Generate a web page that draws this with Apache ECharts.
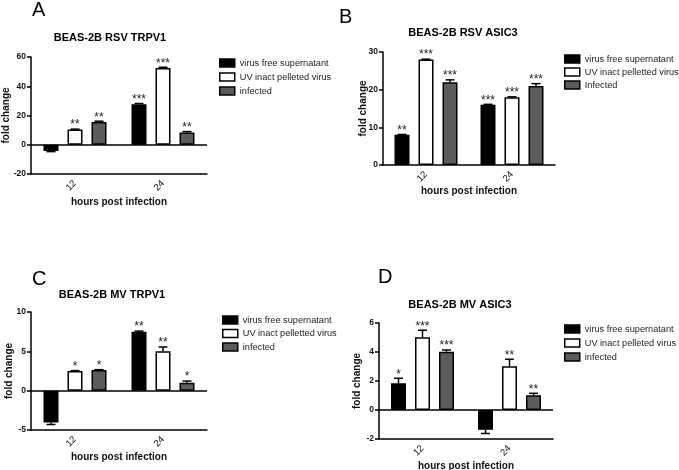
<!DOCTYPE html>
<html><head><meta charset="utf-8">
<script src="https://cdn.jsdelivr.net/npm/echarts@6/dist/echarts.min.js"></script>
<style>html,body{margin:0;padding:0;background:#fff}#c{width:679px;height:470px}</style>
</head><body><div id="c"></div>
<script>
// ---------- DATA ----------
const categories = ['12', '24'];
const xAxisName = 'hours post infection';
const yAxisName = 'fold change';

const panelLetters = ['A', 'B', 'C', 'D'];
const panelTitles = ['BEAS-2B RSV TRPV1', 'BEAS-2B RSV ASIC3', 'BEAS-2B MV TRPV1', 'BEAS-2B MV ASIC3'];

const namesA = ['virus free supernatant', 'UV inact pelleted virus', 'infected'];
const namesB = ['virus free supernatant', 'UV inact pelletted virus', 'Infected'];
const namesC = ['virus free supernatant', 'UV inact pelletted virus', 'infected'];
const namesD = ['virus free supernatant', 'UV inact pelleted virus', 'infected'];

// y-axis ranges [min, max, interval]
const yRangeA = [-20, 60, 20];
const yRangeB = [0, 30, 10];
const yRangeC = [-5, 10, 5];
const yRangeD = [-2, 6, 2];

// Panel A: BEAS-2B RSV TRPV1
const aVirusFree = [-4.3, 27.7];   const aVirusFreeErr = [0.4, 0.5];  const aVirusFreeSig = ['', '***'];
const aUV = [10.4, 52.5];          const aUVErr = [0.3, 0.5];         const aUVSig = ['**', '***'];
const aInfected = [15.6, 8.3];     const aInfectedErr = [0.5, 0.7];   const aInfectedSig = ['**', '**'];

// Panel B: BEAS-2B RSV ASIC3
const bVirusFree = [8.0, 16.0];    const bVirusFreeErr = [0.1, 0.1];  const bVirusFreeSig = ['**', '***'];
const bUV = [28.0, 18.0];          const bUVErr = [0.1, 0.1];         const bUVSig = ['***', '***'];
const bInfected = [22.0, 21.0];    const bInfectedErr = [0.6, 0.6];   const bInfectedSig = ['***', '***'];

// Panel C: BEAS-2B MV TRPV1
const cVirusFree = [-4.05, 7.5];   const cVirusFreeErr = [0.25, 0.08]; const cVirusFreeSig = ['', '**'];
const cUV = [2.5, 5.0];            const cUVErr = [0.05, 0.55];        const cUVSig = ['*', '**'];
const cInfected = [2.62, 1.02];    const cInfectedErr = [0.05, 0.2];   const cInfectedSig = ['*', '*'];

// Panel D: BEAS-2B MV ASIC3
const dVirusFree = [1.85, -1.37];  const dVirusFreeErr = [0.34, 0.25]; const dVirusFreeSig = ['*', ''];
const dUV = [5.02, 3.02];          const dUVErr = [0.48, 0.48];        const dUVSig = ['***', '**'];
const dInfected = [4.02, 1.02];    const dInfectedErr = [0.12, 0.13];  const dInfectedSig = ['***', '**'];

// ---------- STYLE / LAYOUT ----------
const FONT = '"Liberation Sans", Arial, sans-serif';
const BAR_W = 15, BAR_GAP = 0.6, PITCH = BAR_W * (1 + BAR_GAP);
const barColors = ['#000000', '#ffffff', '#5c5c5c'];

const panels = [
  { names: namesA, yr: yRangeA, zeroLine: true,
    vals: [aVirusFree, aUV, aInfected], errs: [aVirusFreeErr, aUVErr, aInfectedErr], sigs: [aVirusFreeSig, aUVSig, aInfectedSig],
    grid: { left: 31, top: 57, width: 176, height: 117 }, yGap: 20, xGap: 23,
    legend: { left: 219, top: 58, itemGap: 4 },
    letter: [32, 10], title: [110, 38] },
  { names: namesB, yr: yRangeB, zeroLine: false,
    vals: [bVirusFree, bUV, bInfected], errs: [bVirusFreeErr, bUVErr, bInfectedErr], sigs: [bVirusFreeSig, bUVSig, bInfectedSig],
    grid: { left: 383, top: 52, width: 172, height: 113 }, yGap: 15, xGap: 21,
    legend: { left: 564, top: 54, itemGap: 3 },
    letter: [339, 17], title: [463, 33] },
  { names: namesC, yr: yRangeC, zeroLine: true,
    vals: [cVirusFree, cUV, cInfected], errs: [cVirusFreeErr, cUVErr, cInfectedErr], sigs: [cVirusFreeSig, cUVSig, cInfectedSig],
    grid: { left: 31, top: 312, width: 176, height: 118 }, yGap: 17, xGap: 22,
    legend: { left: 222, top: 315, itemGap: 3.5 },
    letter: [32, 279], title: [112, 295] },
  { names: namesD, yr: yRangeD, zeroLine: true,
    vals: [dVirusFree, dUV, dInfected], errs: [dVirusFreeErr, dUVErr, dInfectedErr], sigs: [dVirusFreeSig, dUVSig, dInfectedSig],
    grid: { left: 379, top: 323, width: 174, height: 116 }, yGap: 17, xGap: 22,
    legend: { left: 564, top: 324, itemGap: 4 },
    letter: [378, 277], title: [460, 305] }
];

const grids = [], xAxes = [], yAxes = [], series = [], legends = [], graphics = [];

panels.forEach((p, pi) => {
  grids.push(Object.assign({ containLabel: false, outerBoundsMode: 'none' }, p.grid));
  xAxes.push({
    type: 'category', gridIndex: pi, data: categories,
    axisLine: { onZero: false, lineStyle: { color: '#000', width: 1.5 } },
    axisTick: { alignWithLabel: true, length: 4, lineStyle: { color: '#000', width: 1.5 } },
    axisLabel: { rotate: 45, fontSize: 9.5, color: '#111', margin: 8, fontFamily: FONT },
    name: xAxisName, nameLocation: 'middle', nameGap: p.xGap, nameMoveOverlap: false,
    nameTextStyle: { fontSize: 10, fontWeight: 'bold', color: '#111', fontFamily: FONT },
    splitLine: { show: false }
  });
  yAxes.push({
    type: 'value', gridIndex: pi, min: p.yr[0], max: p.yr[1], interval: p.yr[2],
    axisLine: { show: true, lineStyle: { color: '#000', width: 1.5 } },
    axisTick: { show: true, length: 4, lineStyle: { color: '#000', width: 1.5 } },
    axisLabel: { fontSize: 8.5, fontWeight: 'bold', color: '#111', margin: 5, fontFamily: FONT },
    splitLine: { show: false },
    name: yAxisName, nameLocation: 'middle', nameGap: p.yGap, nameMoveOverlap: false,
    nameTextStyle: { fontSize: 10, fontWeight: 'bold', color: '#111', fontFamily: FONT }
  });

  p.names.forEach((nm, si) => {
    const s = {
      type: 'bar', name: nm, xAxisIndex: pi, yAxisIndex: pi,
      data: p.vals[si], barWidth: BAR_W, barGap: (BAR_GAP * 100) + '%',
      itemStyle: { color: barColors[si], borderColor: '#000', borderWidth: 1.5 },
      animation: false
    };
    if (si === 0 && p.zeroLine) {
      s.markLine = { silent: true, symbol: ['none', 'none'], label: { show: false },
        lineStyle: { color: '#000', width: 1.5, type: 'solid' }, data: [{ yAxis: 0 }], animation: false };
    }
    series.push(s);

    const sig = p.sigs[si];
    series.push({
      type: 'custom', xAxisIndex: pi, yAxisIndex: pi, z: 5, silent: true, animation: false,
      data: p.vals[si].map((v, k) => [k, v, p.errs[si][k]]),
      renderItem: (params, api) => {
        const k = api.value(0), v = api.value(1), e = api.value(2);
        const base = api.coord([k, v]);
        const x = base[0] + (si - 1) * PITCH;
        const dir = v >= 0 ? 1 : -1;
        const yE = api.coord([k, v + dir * e])[1];
        const ch = [];
        ch.push({ type: 'line', shape: { x1: x, y1: base[1], x2: x, y2: yE }, style: { stroke: '#000', lineWidth: 1.5 } });
        ch.push({ type: 'line', shape: { x1: x - 4.5, y1: yE, x2: x + 4.5, y2: yE }, style: { stroke: '#000', lineWidth: 1.5 } });
        const st = sig[params.dataIndex];
        if (st) {
          ch.push({ type: 'text', x: x, y: yE - 4,
            style: { text: st, font: '12px ' + FONT, align: 'center', verticalAlign: 'middle', fill: '#222' } });
        }
        return { type: 'group', children: ch };
      }
    });
  });

  legends.push({
    orient: 'vertical', left: p.legend.left, top: p.legend.top, itemGap: p.legend.itemGap,
    itemWidth: 15, itemHeight: 8, selectedMode: false, padding: 0,
    textStyle: { fontSize: 9.2, color: '#222', fontFamily: FONT, lineHeight: 10 },
    data: p.names.map((nm, si) => ({ name: nm, icon: 'rect',
      itemStyle: { color: barColors[si], borderColor: '#000', borderWidth: 1.5 } }))
  });

  graphics.push({ type: 'text', x: p.letter[0], y: p.letter[1],
    style: { text: panelLetters[pi], font: '20px ' + FONT, fill: '#000', align: 'left', verticalAlign: 'middle' } });
  graphics.push({ type: 'text', x: p.title[0], y: p.title[1],
    style: { text: panelTitles[pi], font: 'bold 11px ' + FONT, fill: '#000', align: 'center', verticalAlign: 'middle' } });
});

const chart = echarts.init(document.getElementById('c'), null, { renderer: 'canvas' });
chart.setOption({
  animation: false,
  backgroundColor: '#fff',
  grid: grids, xAxis: xAxes, yAxis: yAxes, series: series, legend: legends,
  graphic: graphics
});
</script>
</body></html>
